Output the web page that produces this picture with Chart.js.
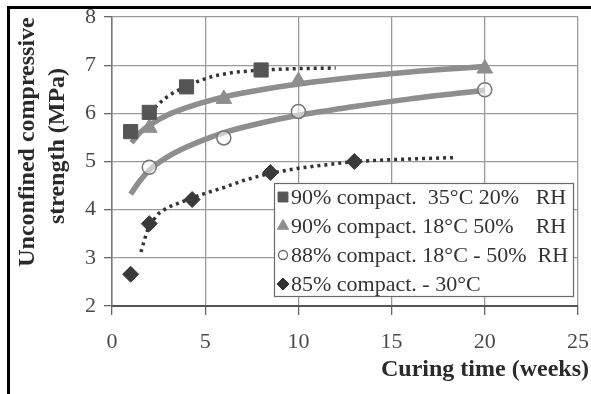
<!DOCTYPE html>
<html>
<head>
<meta charset="utf-8">
<script src="https://cdn.jsdelivr.net/npm/chart.js@4.4.1/dist/chart.umd.min.js"></script>
<style>
html,body{margin:0;padding:0;background:#fff;}
canvas{display:block;}
</style>
</head>
<body>
<canvas id="c" width="591" height="394"></canvas>
<script>
// ---- data ----
const xTicks = [0, 5, 10, 15, 20, 25];
const yTicks = [2, 3, 4, 5, 6, 7, 8];

const legendLabels = [
  "90% compact.  35°C 20%   RH",
  "90% compact. 18°C 50%    RH",
  "88% compact. 18°C - 50%  RH",
  "85% compact. - 30°C"
];
const xTitle = "Curing time (weeks)";
const yTitle = ["Unconfined compressive", "strength (MPa)"];

// measured points
const sqX = [1, 2, 4, 8];
const sqY = [5.62, 6.02, 6.55, 6.9];
const triX = [2, 6, 10, 20];
const triY = [5.7, 6.3, 6.67, 6.93];
const cirX = [2, 6, 10, 20];
const cirY = [4.88, 5.49, 6.04, 6.49];
const diaX = [1, 2, 4.3, 8.5, 13];
const diaY = [2.66, 3.71, 4.21, 4.77, 5.0];

// trend lines
const sqTrendX = [2.3, 2.8, 3.3, 4, 4.7, 5.5, 6.5, 8, 10, 12];
const sqTrendY = [6.12, 6.3, 6.43, 6.56, 6.68, 6.78, 6.85, 6.9, 6.93, 6.94];
const triTrendX = [1.05, 1.5, 2, 3, 4, 5, 6, 8, 10, 13, 16, 20];
const triTrendY = [5.39, 5.6, 5.75, 5.97, 6.12, 6.24, 6.34, 6.49, 6.61, 6.75, 6.86, 6.97];
const cirTrendX = [1, 1.5, 2, 3, 4, 5, 6, 8, 10, 13, 16, 20];
const cirTrendY = [4.32, 4.6, 4.82, 5.1, 5.3, 5.46, 5.6, 5.8, 5.96, 6.14, 6.3, 6.48];
const diaTrendX = [1.55, 1.8, 2, 2.5, 3, 4, 5, 6, 7, 8.5, 10, 11, 13, 15, 18.3];
const diaTrendY = [3.12, 3.45, 3.68, 3.92, 4.05, 4.2, 4.34, 4.46, 4.6, 4.76, 4.86, 4.91, 5.0, 5.04, 5.08];

const pts = (xs, ys) => xs.map((x, i) => ({x: x, y: ys[i]}));

const serif = "'Liberation Serif', 'Times New Roman', serif";

const markerStyles = [
  {pointStyle: 'rect', radius: 7, fill: '#555555', stroke: '#555555', lw: 1},
  {pointStyle: 'triangle', radius: 6.5, fill: '#8e8e8e', stroke: '#8e8e8e', lw: 1},
  {pointStyle: 'circle', radius: 4.5, fill: '#ffffff', stroke: '#666666', lw: 1.3},
  {pointStyle: 'rectRot', radius: 6, fill: '#333333', stroke: '#333333', lw: 1}
];

const decor = {
  id: 'decor',
  afterDraw(chart) {
    const ctx = chart.ctx;
    ctx.save();
    // frame
    ctx.strokeStyle = '#000';
    ctx.lineWidth = 3;
    ctx.beginPath();
    ctx.moveTo(8.5, 394); ctx.lineTo(8.5, 7.5); ctx.lineTo(591, 7.5);
    ctx.stroke();

    // legend box
    const bx = 274, by = 183, bw = 299, bh = 113;
    ctx.fillStyle = '#fff';
    ctx.fillRect(bx, by, bw, bh);
    ctx.strokeStyle = '#6a6a6a';
    ctx.lineWidth = 1.2;
    ctx.strokeRect(bx + 0.5, by + 0.5, bw, bh);
    const rows = [197, 226, 255, 284];
    legendLabels.forEach((t, i) => {
      const m = markerStyles[i];
      ctx.fillStyle = m.fill;
      ctx.strokeStyle = m.stroke;
      ctx.lineWidth = m.lw;
      Chart.helpers.drawPoint(ctx, {pointStyle: m.pointStyle, radius: m.radius, rotation: 0, borderWidth: m.lw}, 283, rows[i]);
      ctx.font = '22px ' + serif;
      ctx.textBaseline = 'middle';
      ctx.textAlign = 'left';
      ctx.fillStyle = '#333';
      ctx.fillText(t, 291, rows[i] + 1);
    });

    // axis titles
    ctx.fillStyle = '#2a2a2a';
    ctx.font = 'bold 24px ' + serif;
    ctx.textAlign = 'center';
    ctx.textBaseline = 'middle';
    ctx.fillText(xTitle, 485, 370);
    ctx.save();
    ctx.translate(28, 142);
    ctx.rotate(-Math.PI / 2);
    ctx.fillText(yTitle[0], 0, 0);
    ctx.restore();
    ctx.save();
    ctx.translate(58, 146);
    ctx.rotate(-Math.PI / 2);
    ctx.fillText(yTitle[1], 0, 0);
    ctx.restore();
    ctx.restore();
  }
};

new Chart(document.getElementById('c'), {
  type: 'scatter',
  data: {
    datasets: [
      {label: 'sqTrend', data: pts(sqTrendX, sqTrendY), showLine: true, pointRadius: 0,
       borderColor: '#333', borderWidth: 3.5, borderDash: [3, 4], order: 5},
      {label: 'triTrend', data: pts(triTrendX, triTrendY), showLine: true, pointRadius: 0,
       borderColor: '#8e8e8e', borderWidth: 5.5, cubicInterpolationMode: 'monotone', order: 6},
      {label: 'cirTrend', data: pts(cirTrendX, cirTrendY), showLine: true, pointRadius: 0,
       borderColor: '#8e8e8e', borderWidth: 5.5, cubicInterpolationMode: 'monotone', order: 6},
      {label: 'diaTrend', data: pts(diaTrendX, diaTrendY), showLine: true, pointRadius: 0,
       borderColor: '#333', borderWidth: 3.5, borderDash: [3, 4], order: 5},
      {label: legendLabels[0], data: pts(sqX, sqY), pointStyle: 'rect', pointRadius: 10,
       backgroundColor: '#555555', borderColor: '#555555', order: 1},
      {label: legendLabels[1], data: pts(triX, triY), pointStyle: 'triangle', pointRadius: 9,
       backgroundColor: '#8e8e8e', borderColor: '#8e8e8e', order: 2},
      {label: legendLabels[2], data: pts(cirX, cirY), pointStyle: 'circle', pointRadius: 7,
       backgroundColor: 'rgba(255,255,255,0.55)', borderColor: '#777', borderWidth: 1.5, order: 3},
      {label: legendLabels[3], data: pts(diaX, diaY), pointStyle: 'rectRot', pointRadius: 8,
       backgroundColor: '#3a3a3a', borderColor: '#3a3a3a', order: 0}
    ]
  },
  options: {
    responsive: false,
    animation: false,
    devicePixelRatio: 1,
    layout: {padding: {left: 0, top: 17, right: 13, bottom: 0}},
    plugins: {legend: {display: false}, tooltip: {enabled: false}},
    scales: {
      x: {
        type: 'linear', min: 0, max: 25,
        afterBuildTicks: s => { s.ticks = xTicks.map(v => ({value: v})); },
        afterFit: s => { s.height = 88; s.paddingLeft = 0; s.paddingRight = 0; },
        ticks: {font: {family: serif, size: 22}, color: '#4a4a4a', padding: 14, maxRotation: 0},
        grid: {color: '#9a9a9a', lineWidth: 1.3, tickLength: 9, tickColor: '#666'},
        border: {color: '#555', width: 2}
      },
      y: {
        type: 'linear', min: 2, max: 8,
        afterBuildTicks: s => { s.ticks = yTicks.map(v => ({value: v})); },
        afterFit: s => { s.width = 112; s.paddingTop = 0; s.paddingBottom = 0; },
        ticks: {font: {family: serif, size: 22}, color: '#4a4a4a', padding: 8},
        grid: {color: '#9a9a9a', lineWidth: 1.3, tickLength: 8, tickColor: '#666'},
        border: {color: '#777', width: 1.5}
      }
    }
  },
  plugins: [decor]
});
</script>
</body>
</html>
